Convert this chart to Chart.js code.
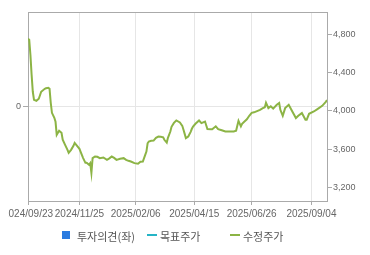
<!DOCTYPE html>
<html>
<head>
<meta charset="utf-8">
<script src="https://cdn.jsdelivr.net/npm/chart.js@4"></script>
<style>
  html, body { margin:0; padding:0; background:#fff; width:370px; height:255px; overflow:hidden; }
  #wrap { position:absolute; left:0; top:0; width:370px; height:255px; clip-path: inset(0 0 0 8px); }
  #legend { position:absolute; left:0; top:226px; width:370px; height:20px;
            font-family:"Noto Sans CJK KR","Noto Sans",sans-serif; font-size:11px; color:#555; }
  .item { position:absolute; top:0; height:20px; line-height:20px; white-space:nowrap; }
  .sw { position:absolute; }
  .txt { position:absolute; top:0; }
</style>
</head>
<body>
<div id="wrap"><canvas id="c" width="370" height="255"></canvas></div>
<div id="legend"></div>
<script>
// ---- data (trading-day index from 2024/09/23, adjusted price) ----
const dayIndex = [0,1,2,3,4,5,7,9,11,14,15,17,18,19,20,22,23,24,26,28,29,31,33,34,36,38,39,41,43,44,46,48,49,51,52,53,54,56,58,60,63,66,68,70,72,74,77,80,82,84,86,89,92,94,96,98,99,100,101,103,105,107,109,111,113,114,116,117,119,120,122,124,127,129,130,131,132,134,136,137,138,140,143,145,148,150,153,154,157,159,162,165,169,172,174,175,176,178,179,181,183,185,187,189,192,194,196,198,199,201,203,205,208,210,211,213,215,218,221,224,226,229,232,233,235,239,242,246,249,250];
const prices = [4753,4743,4586,4377,4199,4115,4105,4126,4199,4230,4235,4241,4230,4084,3979,3927,3885,3749,3791,3770,3697,3644,3592,3561,3592,3634,3665,3634,3603,3571,3508,3456,3456,3435,3453,3351,3505,3522,3519,3505,3512,3487,3503,3522,3508,3487,3498,3505,3487,3477,3470,3453,3446,3467,3470,3540,3574,3660,3679,3686,3689,3718,3731,3728,3723,3697,3668,3718,3783,3833,3874,3899,3878,3843,3801,3759,3714,3731,3780,3812,3836,3864,3899,3871,3888,3809,3806,3806,3838,3809,3796,3783,3783,3783,3791,3843,3895,3838,3864,3888,3911,3948,3979,3984,4000,4010,4026,4037,4084,4028,4047,4023,4063,4081,4010,3948,4028,4063,3993,3924,3948,3976,3906,3906,3969,3993,4018,4052,4094,4112];
const xTickIndex = [0,43,90,139,187,237];
const xTickLabels = ['2024/09/23','2024/11/25','2025/02/06','2025/04/15','2025/06/26','2025/09/04'];
const rightTicks = [3200,3600,4000,4400,4800];
const leftTicks = [0];
const legendLabels = ['투자의견(좌)','목표주가','수정주가'];
const legendColors = ['#2a7be0','#25b4c6','#8cb445'];

const xFont = { family:'"Liberation Sans", Arial, sans-serif', size:10 };
const yFont = { family:'"Liberation Sans", Arial, sans-serif', size:9 };
const tickColor = '#666';
const axisColor = '#aaaaaa';
const gridColor = '#e6e6e6';

new Chart(document.getElementById('c'), {
  type:'line',
  data:{
    datasets:[{
      label: legendLabels[2],
      data: dayIndex.map((d,i)=>({x:d, y:prices[i]})),
      yAxisID:'y1',
      borderColor: legendColors[2],
      borderWidth: 2,
      pointRadius: 0,
      tension: 0,
      fill:false
    }]
  },
  options:{
    responsive:false,
    animation:false,
    layout:{ autoPadding:false, padding:{ top:12, bottom:34, left:0, right:0 } },
    plugins:{ legend:{ display:false }, tooltip:{ enabled:false } },
    scales:{
      x:{
        type:'linear', position:'bottom', min:0, max:250,
        afterBuildTicks: s => { s.ticks = xTickIndex.map(v=>({value:v})); },
        afterFit: s => { s.height = 20; },
        ticks:{ autoSkip:false, maxRotation:0, font:xFont, color:tickColor, padding:3,
                callback:(v,i)=> xTickLabels[i] },
        grid:{ color:gridColor, tickLength:4, tickColor:axisColor },
        border:{ color:axisColor }
      },
      xTop:{
        type:'linear', position:'top', min:0, max:250,
        afterFit: s => { s.height = 0; },
        ticks:{ display:false },
        grid:{ drawOnChartArea:false, drawTicks:false },
        border:{ color:axisColor }
      },
      y:{
        type:'linear', position:'left', min:-1, max:1,
        afterBuildTicks: s => { s.ticks = leftTicks.map(v=>({value:v})); },
        afterFit: s => { s.width = 27; },
        ticks:{ font:yFont, color:tickColor, padding:2, callback:v=> String(v) },
        grid:{ color:gridColor, tickLength:5, tickColor:axisColor },
        border:{ color:axisColor }
      },
      y1:{
        type:'linear', position:'right', min:3057, max:5033,
        afterBuildTicks: s => { s.ticks = rightTicks.map(v=>({value:v})); },
        afterFit: s => { s.width = 43; },
        ticks:{ font:yFont, color:tickColor, padding:1,
                callback:v=> v.toLocaleString('en-US') },
        grid:{ drawOnChartArea:false, tickLength:5, tickColor:axisColor },
        border:{ color:axisColor }
      }
    }
  }
});

// ---- legend ----
const legendX = [62,147,230];
const lg = document.getElementById('legend');
legendLabels.forEach((lab,i)=>{
  const it = document.createElement('div');
  it.className='item'; it.style.left = legendX[i]+'px';
  const sw = document.createElement('div'); sw.className='sw';
  if(i===0){ sw.style.cssText='left:0;top:5px;width:8px;height:8px;background:'+legendColors[i]; }
  else { sw.style.cssText='left:0;top:8px;width:10px;height:2px;background:'+legendColors[i]; }
  const tx = document.createElement('span'); tx.className='txt';
  tx.style.left = (i===0? 15 : 13)+'px'; tx.textContent = lab;
  it.appendChild(sw); it.appendChild(tx); lg.appendChild(it);
});
</script>
</body>
</html>
